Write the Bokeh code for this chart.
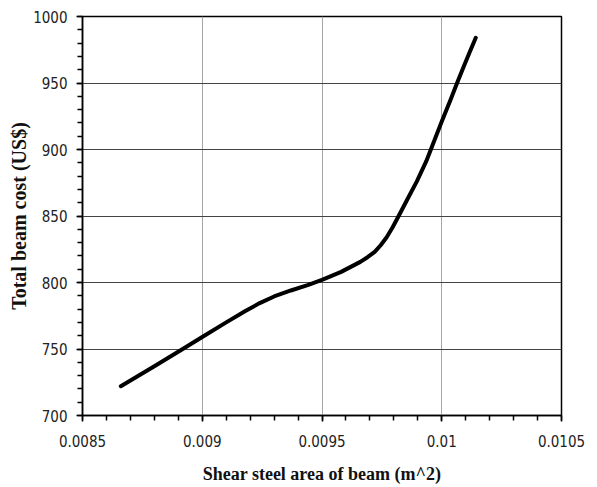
from bokeh.plotting import figure
from bokeh.models import FixedTicker, Range1d
from bokeh.embed import file_html
from bokeh.resources import INLINE

# Data
shear_area = [0.00866, 0.00880, 0.00891, 0.00900, 0.00910, 0.00918, 0.00924,
              0.00930, 0.00937, 0.00944, 0.00950, 0.00958, 0.00966, 0.00969,
              0.00972, 0.009745, 0.00977, 0.009795, 0.00982, 0.009855,
              0.009896, 0.009935, 0.009974, 0.01000, 0.010036, 0.010064,
              0.010091, 0.010116, 0.010142]
total_cost = [722, 737, 749, 759, 770, 778.5, 784.5,
              789.5, 794, 798, 802, 808, 815.5, 819,
              823, 828, 834, 841.5, 850, 862,
              876, 891, 909, 921, 937, 950,
              962, 973, 984]

x_ticks = [0.0085, 0.009, 0.0095, 0.01, 0.0105]
x_tick_labels = ["0.0085", "0.009", "0.0095", "0.01", "0.0105"]
y_ticks = [700, 750, 800, 850, 900, 950, 1000]
y_tick_labels = ["700", "750", "800", "850", "900", "950", "1000"]
x_minor = [0.0085 + i * 0.0001 for i in range(21)]
y_minor = [700 + i * 10 for i in range(31)]

tick_font = "DejaVu Sans Condensed, DejaVu Sans, sans-serif"
title_font = "Liberation Serif, Times New Roman, serif"

p = figure(width=597, height=487, output_backend="svg", toolbar_location=None,
           x_range=Range1d(0.0085, 0.0105), y_range=Range1d(700, 1000),
           min_border_left=82, min_border_right=36, min_border_top=16,
           min_border_bottom=72)

p.line(shear_area, total_cost, line_color="black", line_width=4,
       line_cap="round", line_join="round")

p.xaxis.ticker = FixedTicker(ticks=x_ticks, minor_ticks=x_minor)
p.yaxis.ticker = FixedTicker(ticks=y_ticks, minor_ticks=y_minor)
p.xaxis.major_label_overrides = dict(zip(x_ticks, x_tick_labels))
p.yaxis.major_label_overrides = dict(zip(y_ticks, y_tick_labels))

for ax in (p.xaxis, p.yaxis):
    ax.axis_line_color = "black"
    ax.axis_line_width = 1.5
    ax.major_tick_line_color = "black"
    ax.minor_tick_line_color = "black"
    ax.major_tick_line_width = 1.5
    ax.minor_tick_line_width = 1.5
    ax.major_tick_in = 0
    ax.major_tick_out = 6
    ax.minor_tick_in = 0
    ax.minor_tick_out = 5
    ax.major_label_text_font = tick_font
    ax.major_label_text_font_size = "15px"
    ax.major_label_text_color = "#222222"
    ax.axis_label_text_font = title_font
    ax.axis_label_text_font_style = "bold"
    ax.axis_label_text_color = "#111111"

p.xaxis.axis_label = "Shear steel area of beam (m^2)"
p.yaxis.axis_label = "Total beam cost (US$)"
p.xaxis.axis_label_text_font_size = "18px"
p.yaxis.axis_label_text_font_size = "20px"
p.xaxis.major_label_standoff = 13
p.yaxis.major_label_standoff = 9
p.xaxis.axis_label_standoff = 14
p.yaxis.axis_label_standoff = 0

p.xgrid.grid_line_color = "#a6a6a6"
p.xgrid.grid_line_width = 1
p.ygrid.grid_line_color = "#444444"
p.ygrid.grid_line_width = 1

p.outline_line_color = "black"
p.outline_line_width = 1.5
p.background_fill_color = "white"
p.border_fill_color = "white"

open("out.html", "w").write(file_html(p, INLINE))
